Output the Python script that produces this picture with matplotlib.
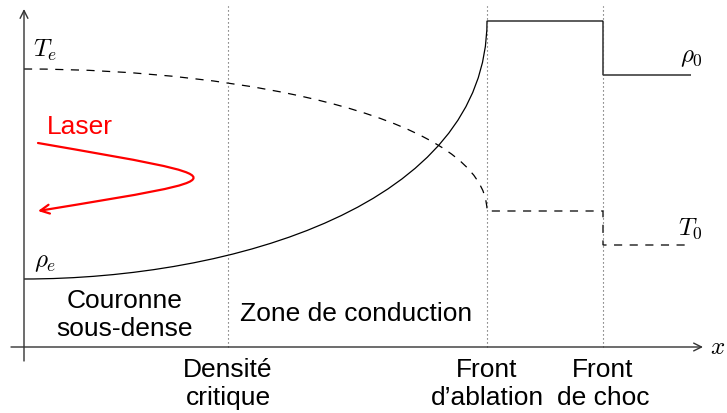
import matplotlib.pyplot as plt
from matplotlib.path import Path
from matplotlib.patches import PathPatch, FancyArrowPatch

plt.rcParams['mathtext.fontset'] = 'cm'
plt.rcParams['font.family'] = ['Liberation Sans', 'DejaVu Sans']

# positions des fronts (axe x) et niveaux du schema
x_crit, x_abl, x_choc, x_end = 204, 463, 579, 666
rho_e, rho_max, rho_0 = 68, 326, 272
T_e, T_abl, T_0 = 278, 136, 102

# poignees des courbes de Bezier (densite, temperature, laser)
rho_ctrl = [(207, rho_e), (x_abl, 141)]
T_ctrl = [(230, T_e), (x_abl, 226)]
laser_pts = [(14, 204), (221, 168), (221, 170), (14, 136)]

labels_bas = ["Densité\ncritique", "Front\nd’ablation", "Front\nde choc"]

fig = plt.figure(figsize=(7.27, 4.14), dpi=100)
ax = fig.add_axes([0, 0, 1, 1])
ax.set_xlim(-24, 703)
ax.set_ylim(-66, 348)
ax.axis('off')

# axes avec fleches
arr = dict(arrowstyle='->', lw=1.0, color='0.2', shrinkA=0, shrinkB=0, mutation_scale=14)
ax.annotate('', xy=(679, 0), xytext=(-13, 0), arrowprops=arr)
ax.annotate('', xy=(0, 338), xytext=(0, -14), arrowprops=arr)

# lignes pointillees verticales
for xv in (x_crit, x_abl, x_choc):
    ax.plot([xv, xv], [0, 341], color='0.3', lw=0.8, linestyle=(0, (1, 2.6)))

# densite (trait plein)
rho_path = Path([(0, rho_e), rho_ctrl[0], rho_ctrl[1], (x_abl, rho_max),
                 (x_choc, rho_max), (x_choc, rho_0), (x_end + 1, rho_0)],
                [Path.MOVETO, Path.CURVE4, Path.CURVE4, Path.CURVE4,
                 Path.LINETO, Path.LINETO, Path.LINETO])
ax.add_patch(PathPatch(rho_path, fill=False, edgecolor='black', lw=0.9))

# temperature (tirets)
T_path = Path([(0, T_e), T_ctrl[0], T_ctrl[1], (x_abl, T_abl),
               (x_choc, T_abl), (x_choc, T_0), (x_end, T_0)],
              [Path.MOVETO, Path.CURVE4, Path.CURVE4, Path.CURVE4,
               Path.LINETO, Path.LINETO, Path.LINETO])
ax.add_patch(PathPatch(T_path, fill=False, edgecolor='black', lw=0.9,
                       linestyle=(0, (6.5, 6))))

# laser
laser_path = Path(laser_pts, [Path.MOVETO, Path.CURVE4, Path.CURVE4, Path.CURVE4])
ax.add_patch(FancyArrowPatch(path=laser_path, arrowstyle='->', color='red',
                             lw=1.6, mutation_scale=16))
ax.text(56, 221, "Laser", color='red', fontsize=19, ha='center', va='center')

# etiquettes mathematiques
ax.text(9, 291, r"$T_e$", fontsize=18, ha='left', va='baseline')
ax.text(10, 81, r"$\rho_e$", fontsize=18, ha='left', va='baseline')
ax.text(679, 286, r"$\rho_0$", fontsize=18, ha='right', va='baseline')
ax.text(679, 113, r"$T_0$", fontsize=18, ha='right', va='baseline')
ax.text(694, 1, r"$x$", fontsize=18, ha='center', va='center')

# zones
ax.text(101, 33, "Couronne\nsous-dense", fontsize=19, ha='center', va='center')
ax.text(332, 34, "Zone de conduction", fontsize=19, ha='center', va='center')
for xv, lab in zip((x_crit, x_abl, x_choc), labels_bas):
    ax.text(xv, -36, lab, fontsize=19, ha='center', va='center')

fig.savefig("out.png", dpi=100)
